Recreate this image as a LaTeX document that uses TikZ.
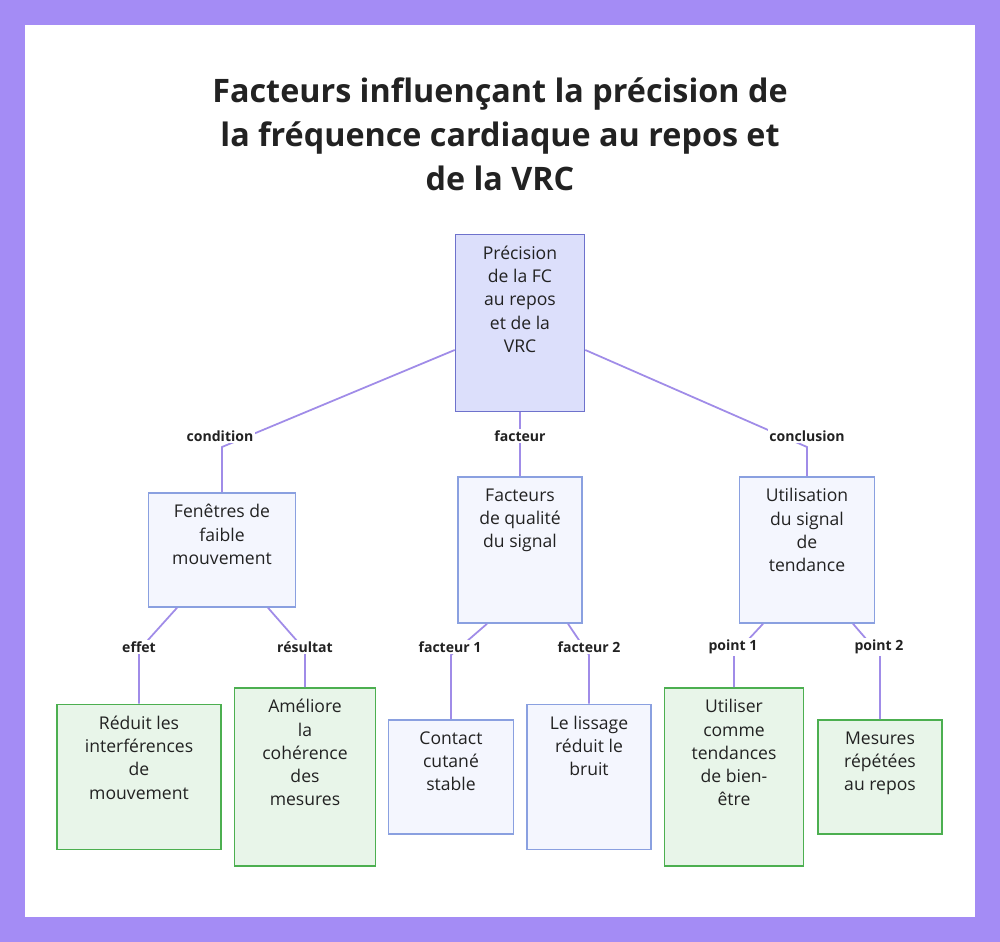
\documentclass[tikz,border=0pt]{standalone}
\usepackage{fontspec}
\setmainfont{Open Sans}
\usetikzlibrary{calc}
\definecolor{frame}{HTML}{A48CF5}
\definecolor{wire}{HTML}{A08CE8}
\definecolor{rootfill}{HTML}{DCDFFB}
\definecolor{rootdraw}{HTML}{6E72CC}
\definecolor{midfill}{HTML}{F4F6FE}
\definecolor{middraw}{HTML}{8AA0E0}
\definecolor{leaffill}{HTML}{E8F5E9}
\definecolor{leafdraw}{HTML}{4CAF50}
\definecolor{ink}{HTML}{222222}
\newcommand{\boxtext}[3]{\parbox[c][0.02\dimexpr#1cm\relax][t]{0.02\dimexpr#2cm\relax}{\centering\vspace{2.3mm}#3}}
\tikzset{
  box/.style={draw, line width=0.9pt, inner sep=0pt,
    font=\fontsize{10}{13.2}\selectfont, text=ink},
  root/.style={box, fill=rootfill, draw=rootdraw},
  mid/.style={box, fill=midfill, draw=middraw},
  leaf/.style={box, fill=leaffill, draw=leafdraw},
  wire/.style={draw=wire, line width=1pt},
  tag/.style={font=\bfseries\fontsize{8}{10}\selectfont, text=ink, fill=white, inner sep=1pt}
}
\begin{document}
\begin{tikzpicture}[x=0.02cm, y=-0.02cm]

	\useasboundingbox (0,0) rectangle (1000,942);
	\fill[frame] (0,0) rectangle (1000,942);
	\fill[white] (25,25) rectangle (975,917);

	\node[font=\bfseries\fontsize{18.4}{25}\selectfont, text=ink, align=center] (title) at (500,134)
		{Facteurs influençant la précision de\\la fréquence cardiaque au repos et\\de la VRC};

	% boxes
	\node[root] (prec) at (520,323) {\boxtext{177}{129}{Précision\\de la FC\\au repos\\et de la\\VRC}};
	\node[mid] (fen) at (222,550) {\boxtext{114}{147}{Fenêtres de\\faible\\mouvement}};
	\node[mid] (fact) at (520,550) {\boxtext{146}{124}{Facteurs\\de qualité\\du signal}};
	\node[mid] (util) at (807,550) {\boxtext{146}{135}{Utilisation\\du signal\\de\\tendance}};

	\node[leaf] (red) at (139,777) {\boxtext{145}{164}{Réduit les\\interférences\\de\\mouvement}};
	\node[leaf] (ame) at (305,777) {\boxtext{178}{141}{Améliore\\la\\cohérence\\des\\mesures}};
	\node[mid] (cont) at (451,777) {\boxtext{114}{125}{Contact\\cutané\\stable}};
	\node[mid] (liss) at (589,777) {\boxtext{145}{124}{Le lissage\\réduit le\\bruit}};
	\node[leaf] (uti) at (734,777) {\boxtext{178}{139}{Utiliser\\comme\\tendances\\de bien-\\être}};
	\node[leaf] (mes) at (880,777) {\boxtext{114}{124}{Mesures\\répétées\\au repos}};

	% connectors
	\draw[wire] (prec.west |- 0,350) -- (222,447) -- (fen.north);
	\draw[wire] (prec.south) -- (fact.north);
	\draw[wire] (prec.east |- 0,350) -- (807,447) -- (util.north);
	\draw[wire] (fen.south -| 177,0) -- (139,650) -- (red.north);
	\draw[wire] (fen.south -| 268,0) -- (305,650) -- (ame.north);
	\draw[wire] (fact.south -| 487,0) -- (451,655) -- (cont.north);
	\draw[wire] (fact.south -| 568,0) -- (589,655) -- (liss.north);
	\draw[wire] (util.south -| 763,0) -- (734,655) -- (uti.north);
	\draw[wire] (util.south -| 853,0) -- (880,655) -- (mes.north);

	% labels
	\node[tag] (l1) at (220,436) {condition};
	\node[tag] (l2) at (520,436) {facteur};
	\node[tag] (l3) at (807,436) {conclusion};
	\node[tag] (l4) at (139,647) {effet};
	\node[tag] (l5) at (305,647) {résultat};
	\node[tag] (l6) at (450,647) {facteur 1};
	\node[tag] (l7) at (589,647) {facteur 2};
	\node[tag] (l8) at (733,647) {point 1};
	\node[tag] (l9) at (879,647) {point 2};

\end{tikzpicture}
\end{document}
